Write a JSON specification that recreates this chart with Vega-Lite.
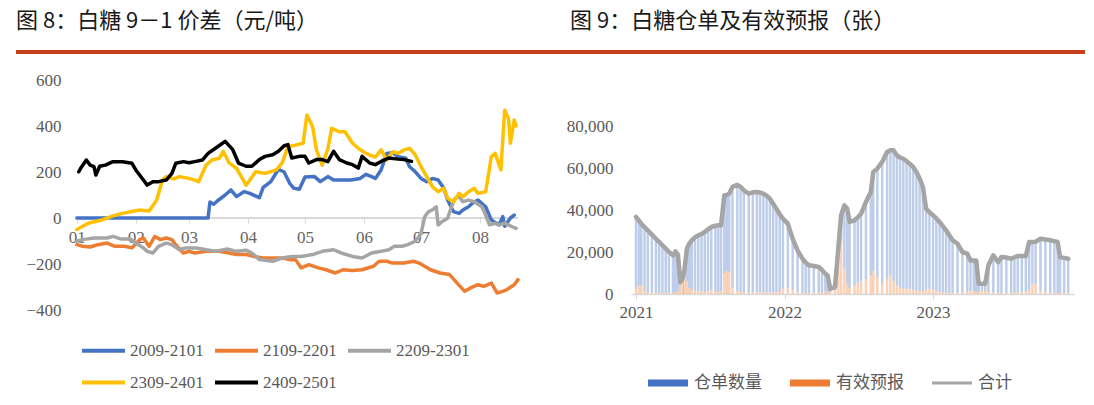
{
  "$schema": "https://vega.github.io/schema/vega-lite/v6.json",
  "padding": {"left": 16, "top": 10, "right": 6, "bottom": 4},
  "background": "white",
  "config": {
    "view": {"stroke": null},
    "axis": {"labelFont": "Liberation Serif", "labelFontSize": 17, "labelColor": "#595959", "grid": false, "ticks": false, "domain": false, "title": null},
    "title": {"font": "Noto Sans CJK SC", "fontSize": 22, "fontWeight": "normal", "color": "#1a1a1a", "anchor": "start", "offset": 13, "baseline": "bottom"}
  },
  "datasets": {
    "spread": [
      {"date": "2001-01-01", "series": "2009-2101", "value": 0},
      {"date": "2001-03-11", "series": "2009-2101", "value": 0},
      {"date": "2001-03-12", "series": "2009-2101", "value": 70},
      {"date": "2001-03-14", "series": "2009-2101", "value": 60},
      {"date": "2001-03-16", "series": "2009-2101", "value": 75},
      {"date": "2001-03-20", "series": "2009-2101", "value": 100},
      {"date": "2001-03-23", "series": "2009-2101", "value": 122},
      {"date": "2001-03-26", "series": "2009-2101", "value": 93},
      {"date": "2001-03-30", "series": "2009-2101", "value": 115},
      {"date": "2001-04-02", "series": "2009-2101", "value": 107},
      {"date": "2001-04-07", "series": "2009-2101", "value": 88},
      {"date": "2001-04-09", "series": "2009-2101", "value": 133},
      {"date": "2001-04-13", "series": "2009-2101", "value": 158},
      {"date": "2001-04-17", "series": "2009-2101", "value": 212},
      {"date": "2001-04-20", "series": "2009-2101", "value": 200},
      {"date": "2001-04-23", "series": "2009-2101", "value": 150},
      {"date": "2001-04-25", "series": "2009-2101", "value": 130},
      {"date": "2001-04-28", "series": "2009-2101", "value": 125},
      {"date": "2001-05-01", "series": "2009-2101", "value": 178},
      {"date": "2001-05-06", "series": "2009-2101", "value": 180},
      {"date": "2001-05-09", "series": "2009-2101", "value": 158},
      {"date": "2001-05-13", "series": "2009-2101", "value": 180},
      {"date": "2001-05-16", "series": "2009-2101", "value": 165},
      {"date": "2001-05-20", "series": "2009-2101", "value": 165},
      {"date": "2001-05-25", "series": "2009-2101", "value": 165},
      {"date": "2001-05-30", "series": "2009-2101", "value": 172},
      {"date": "2001-06-02", "series": "2009-2101", "value": 190},
      {"date": "2001-06-05", "series": "2009-2101", "value": 180},
      {"date": "2001-06-07", "series": "2009-2101", "value": 172},
      {"date": "2001-06-10", "series": "2009-2101", "value": 209},
      {"date": "2001-06-13", "series": "2009-2101", "value": 281},
      {"date": "2001-06-16", "series": "2009-2101", "value": 284},
      {"date": "2001-06-19", "series": "2009-2101", "value": 267},
      {"date": "2001-06-23", "series": "2009-2101", "value": 260},
      {"date": "2001-06-25", "series": "2009-2101", "value": 223},
      {"date": "2001-06-28", "series": "2009-2101", "value": 201},
      {"date": "2001-07-01", "series": "2009-2101", "value": 172},
      {"date": "2001-07-04", "series": "2009-2101", "value": 158},
      {"date": "2001-07-07", "series": "2009-2101", "value": 172},
      {"date": "2001-07-10", "series": "2009-2101", "value": 165},
      {"date": "2001-07-13", "series": "2009-2101", "value": 129},
      {"date": "2001-07-15", "series": "2009-2101", "value": 78},
      {"date": "2001-07-18", "series": "2009-2101", "value": 28},
      {"date": "2001-07-21", "series": "2009-2101", "value": 20},
      {"date": "2001-07-23", "series": "2009-2101", "value": 35},
      {"date": "2001-07-26", "series": "2009-2101", "value": 49},
      {"date": "2001-07-28", "series": "2009-2101", "value": 64},
      {"date": "2001-07-31", "series": "2009-2101", "value": 78},
      {"date": "2001-08-04", "series": "2009-2101", "value": 49},
      {"date": "2001-08-07", "series": "2009-2101", "value": -9},
      {"date": "2001-08-11", "series": "2009-2101", "value": -30},
      {"date": "2001-08-13", "series": "2009-2101", "value": 6},
      {"date": "2001-08-14", "series": "2009-2101", "value": -36},
      {"date": "2001-08-17", "series": "2009-2101", "value": 0},
      {"date": "2001-08-19", "series": "2009-2101", "value": 13},

      {"date": "2001-01-01", "series": "2109-2201", "value": -116},
      {"date": "2001-01-04", "series": "2109-2201", "value": -123},
      {"date": "2001-01-08", "series": "2109-2201", "value": -126},
      {"date": "2001-01-12", "series": "2109-2201", "value": -116},
      {"date": "2001-01-17", "series": "2109-2201", "value": -109},
      {"date": "2001-01-21", "series": "2109-2201", "value": -123},
      {"date": "2001-01-26", "series": "2109-2201", "value": -123},
      {"date": "2001-01-30", "series": "2109-2201", "value": -130},
      {"date": "2001-02-03", "series": "2109-2201", "value": -94},
      {"date": "2001-02-05", "series": "2109-2201", "value": -87},
      {"date": "2001-02-08", "series": "2109-2201", "value": -123},
      {"date": "2001-02-11", "series": "2109-2201", "value": -80},
      {"date": "2001-02-14", "series": "2109-2201", "value": -94},
      {"date": "2001-02-17", "series": "2109-2201", "value": -87},
      {"date": "2001-02-20", "series": "2109-2201", "value": -94},
      {"date": "2001-02-22", "series": "2109-2201", "value": -116},
      {"date": "2001-02-26", "series": "2109-2201", "value": -152},
      {"date": "2001-03-01", "series": "2109-2201", "value": -145},
      {"date": "2001-03-04", "series": "2109-2201", "value": -152},
      {"date": "2001-03-10", "series": "2109-2201", "value": -145},
      {"date": "2001-03-17", "series": "2109-2201", "value": -145},
      {"date": "2001-03-22", "series": "2109-2201", "value": -152},
      {"date": "2001-03-26", "series": "2109-2201", "value": -159},
      {"date": "2001-03-31", "series": "2109-2201", "value": -159},
      {"date": "2001-04-04", "series": "2109-2201", "value": -167},
      {"date": "2001-04-09", "series": "2109-2201", "value": -174},
      {"date": "2001-04-14", "series": "2109-2201", "value": -174},
      {"date": "2001-04-19", "series": "2109-2201", "value": -174},
      {"date": "2001-04-23", "series": "2109-2201", "value": -181},
      {"date": "2001-04-26", "series": "2109-2201", "value": -181},
      {"date": "2001-04-29", "series": "2109-2201", "value": -217},
      {"date": "2001-05-03", "series": "2109-2201", "value": -203},
      {"date": "2001-05-08", "series": "2109-2201", "value": -217},
      {"date": "2001-05-12", "series": "2109-2201", "value": -225},
      {"date": "2001-05-17", "series": "2109-2201", "value": -239},
      {"date": "2001-05-21", "series": "2109-2201", "value": -225},
      {"date": "2001-05-26", "series": "2109-2201", "value": -228},
      {"date": "2001-05-31", "series": "2109-2201", "value": -225},
      {"date": "2001-06-06", "series": "2109-2201", "value": -210},
      {"date": "2001-06-09", "series": "2109-2201", "value": -188},
      {"date": "2001-06-13", "series": "2109-2201", "value": -188},
      {"date": "2001-06-16", "series": "2109-2201", "value": -196},
      {"date": "2001-06-22", "series": "2109-2201", "value": -196},
      {"date": "2001-06-27", "series": "2109-2201", "value": -188},
      {"date": "2001-06-30", "series": "2109-2201", "value": -196},
      {"date": "2001-07-06", "series": "2109-2201", "value": -225},
      {"date": "2001-07-11", "series": "2109-2201", "value": -239},
      {"date": "2001-07-16", "series": "2109-2201", "value": -246},
      {"date": "2001-07-20", "series": "2109-2201", "value": -283},
      {"date": "2001-07-24", "series": "2109-2201", "value": -319},
      {"date": "2001-07-27", "series": "2109-2201", "value": -304},
      {"date": "2001-07-31", "series": "2109-2201", "value": -290},
      {"date": "2001-08-03", "series": "2109-2201", "value": -297},
      {"date": "2001-08-07", "series": "2109-2201", "value": -283},
      {"date": "2001-08-10", "series": "2109-2201", "value": -326},
      {"date": "2001-08-13", "series": "2109-2201", "value": -319},
      {"date": "2001-08-15", "series": "2109-2201", "value": -312},
      {"date": "2001-08-19", "series": "2109-2201", "value": -290},
      {"date": "2001-08-21", "series": "2109-2201", "value": -268},

      {"date": "2001-01-01", "series": "2209-2301", "value": -101},
      {"date": "2001-01-04", "series": "2209-2301", "value": -94},
      {"date": "2001-01-10", "series": "2209-2301", "value": -87},
      {"date": "2001-01-17", "series": "2209-2301", "value": -87},
      {"date": "2001-01-20", "series": "2209-2301", "value": -80},
      {"date": "2001-01-24", "series": "2209-2301", "value": -91},
      {"date": "2001-01-29", "series": "2209-2301", "value": -91},
      {"date": "2001-02-01", "series": "2209-2301", "value": -109},
      {"date": "2001-02-05", "series": "2209-2301", "value": -130},
      {"date": "2001-02-07", "series": "2209-2301", "value": -145},
      {"date": "2001-02-10", "series": "2209-2301", "value": -152},
      {"date": "2001-02-13", "series": "2209-2301", "value": -123},
      {"date": "2001-02-17", "series": "2209-2301", "value": -109},
      {"date": "2001-02-20", "series": "2209-2301", "value": -116},
      {"date": "2001-02-24", "series": "2209-2301", "value": -138},
      {"date": "2001-02-27", "series": "2209-2301", "value": -130},
      {"date": "2001-03-05", "series": "2209-2301", "value": -130},
      {"date": "2001-03-10", "series": "2209-2301", "value": -138},
      {"date": "2001-03-15", "series": "2209-2301", "value": -145},
      {"date": "2001-03-21", "series": "2209-2301", "value": -135},
      {"date": "2001-03-26", "series": "2209-2301", "value": -145},
      {"date": "2001-03-31", "series": "2209-2301", "value": -140},
      {"date": "2001-04-03", "series": "2209-2301", "value": -152},
      {"date": "2001-04-07", "series": "2209-2301", "value": -181},
      {"date": "2001-04-14", "series": "2209-2301", "value": -188},
      {"date": "2001-04-19", "series": "2209-2301", "value": -174},
      {"date": "2001-04-24", "series": "2209-2301", "value": -167},
      {"date": "2001-04-29", "series": "2209-2301", "value": -167},
      {"date": "2001-05-05", "series": "2209-2301", "value": -159},
      {"date": "2001-05-10", "series": "2209-2301", "value": -145},
      {"date": "2001-05-16", "series": "2209-2301", "value": -138},
      {"date": "2001-05-20", "series": "2209-2301", "value": -152},
      {"date": "2001-05-26", "series": "2209-2301", "value": -167},
      {"date": "2001-05-31", "series": "2209-2301", "value": -174},
      {"date": "2001-06-05", "series": "2209-2301", "value": -152},
      {"date": "2001-06-10", "series": "2209-2301", "value": -145},
      {"date": "2001-06-14", "series": "2209-2301", "value": -138},
      {"date": "2001-06-17", "series": "2209-2301", "value": -123},
      {"date": "2001-06-21", "series": "2209-2301", "value": -123},
      {"date": "2001-06-24", "series": "2209-2301", "value": -116},
      {"date": "2001-06-28", "series": "2209-2301", "value": -101},
      {"date": "2001-06-30", "series": "2209-2301", "value": -80},
      {"date": "2001-07-01", "series": "2209-2301", "value": -67},
      {"date": "2001-07-03", "series": "2209-2301", "value": 6},
      {"date": "2001-07-05", "series": "2209-2301", "value": 28},
      {"date": "2001-07-07", "series": "2209-2301", "value": 35},
      {"date": "2001-07-09", "series": "2209-2301", "value": 49},
      {"date": "2001-07-10", "series": "2209-2301", "value": -30},
      {"date": "2001-07-12", "series": "2209-2301", "value": -16},
      {"date": "2001-07-15", "series": "2209-2301", "value": -1},
      {"date": "2001-07-17", "series": "2209-2301", "value": 49},
      {"date": "2001-07-19", "series": "2209-2301", "value": 86},
      {"date": "2001-07-21", "series": "2209-2301", "value": 93},
      {"date": "2001-07-23", "series": "2209-2301", "value": 71},
      {"date": "2001-07-26", "series": "2209-2301", "value": 78},
      {"date": "2001-07-29", "series": "2209-2301", "value": 71},
      {"date": "2001-08-02", "series": "2209-2301", "value": 49},
      {"date": "2001-08-04", "series": "2209-2301", "value": 13},
      {"date": "2001-08-06", "series": "2209-2301", "value": -30},
      {"date": "2001-08-09", "series": "2209-2301", "value": -23},
      {"date": "2001-08-11", "series": "2209-2301", "value": -30},
      {"date": "2001-08-14", "series": "2209-2301", "value": -23},
      {"date": "2001-08-18", "series": "2209-2301", "value": -38},
      {"date": "2001-08-20", "series": "2209-2301", "value": -45},

      {"date": "2001-01-01", "series": "2309-2401", "value": -50},
      {"date": "2001-01-07", "series": "2309-2401", "value": -23},
      {"date": "2001-01-14", "series": "2309-2401", "value": -9},
      {"date": "2001-01-20", "series": "2309-2401", "value": 9},
      {"date": "2001-01-25", "series": "2309-2401", "value": 20},
      {"date": "2001-01-30", "series": "2309-2401", "value": 28},
      {"date": "2001-02-03", "series": "2309-2401", "value": 35},
      {"date": "2001-02-08", "series": "2309-2401", "value": 30},
      {"date": "2001-02-12", "series": "2309-2401", "value": 78},
      {"date": "2001-02-15", "series": "2309-2401", "value": 165},
      {"date": "2001-02-17", "series": "2309-2401", "value": 180},
      {"date": "2001-02-21", "series": "2309-2401", "value": 170},
      {"date": "2001-02-24", "series": "2309-2401", "value": 180},
      {"date": "2001-03-01", "series": "2309-2401", "value": 172},
      {"date": "2001-03-04", "series": "2309-2401", "value": 165},
      {"date": "2001-03-06", "series": "2309-2401", "value": 158},
      {"date": "2001-03-10", "series": "2309-2401", "value": 230},
      {"date": "2001-03-13", "series": "2309-2401", "value": 252},
      {"date": "2001-03-17", "series": "2309-2401", "value": 260},
      {"date": "2001-03-19", "series": "2309-2401", "value": 290},
      {"date": "2001-03-22", "series": "2309-2401", "value": 240},
      {"date": "2001-03-26", "series": "2309-2401", "value": 216},
      {"date": "2001-03-29", "series": "2309-2401", "value": 172},
      {"date": "2001-03-31", "series": "2309-2401", "value": 143},
      {"date": "2001-04-02", "series": "2309-2401", "value": 165},
      {"date": "2001-04-05", "series": "2309-2401", "value": 201},
      {"date": "2001-04-10", "series": "2309-2401", "value": 194},
      {"date": "2001-04-16", "series": "2309-2401", "value": 209},
      {"date": "2001-04-19", "series": "2309-2401", "value": 240},
      {"date": "2001-04-22", "series": "2309-2401", "value": 310},
      {"date": "2001-04-26", "series": "2309-2401", "value": 317},
      {"date": "2001-04-30", "series": "2309-2401", "value": 325},
      {"date": "2001-05-02", "series": "2309-2401", "value": 448},
      {"date": "2001-05-05", "series": "2309-2401", "value": 397},
      {"date": "2001-05-07", "series": "2309-2401", "value": 296},
      {"date": "2001-05-10", "series": "2309-2401", "value": 230},
      {"date": "2001-05-13", "series": "2309-2401", "value": 300},
      {"date": "2001-05-15", "series": "2309-2401", "value": 390},
      {"date": "2001-05-19", "series": "2309-2401", "value": 375},
      {"date": "2001-05-22", "series": "2309-2401", "value": 375},
      {"date": "2001-05-26", "series": "2309-2401", "value": 325},
      {"date": "2001-05-29", "series": "2309-2401", "value": 303},
      {"date": "2001-06-02", "series": "2309-2401", "value": 281},
      {"date": "2001-06-04", "series": "2309-2401", "value": 274},
      {"date": "2001-06-07", "series": "2309-2401", "value": 265},
      {"date": "2001-06-10", "series": "2309-2401", "value": 296},
      {"date": "2001-06-13", "series": "2309-2401", "value": 252},
      {"date": "2001-06-16", "series": "2309-2401", "value": 288},
      {"date": "2001-06-19", "series": "2309-2401", "value": 281},
      {"date": "2001-06-22", "series": "2309-2401", "value": 296},
      {"date": "2001-06-25", "series": "2309-2401", "value": 303},
      {"date": "2001-06-28", "series": "2309-2401", "value": 274},
      {"date": "2001-07-01", "series": "2309-2401", "value": 223},
      {"date": "2001-07-04", "series": "2309-2401", "value": 180},
      {"date": "2001-07-07", "series": "2309-2401", "value": 136},
      {"date": "2001-07-10", "series": "2309-2401", "value": 114},
      {"date": "2001-07-13", "series": "2309-2401", "value": 129},
      {"date": "2001-07-15", "series": "2309-2401", "value": 86},
      {"date": "2001-07-18", "series": "2309-2401", "value": 71},
      {"date": "2001-07-21", "series": "2309-2401", "value": 107},
      {"date": "2001-07-23", "series": "2309-2401", "value": 93},
      {"date": "2001-07-26", "series": "2309-2401", "value": 114},
      {"date": "2001-07-29", "series": "2309-2401", "value": 129},
      {"date": "2001-07-31", "series": "2309-2401", "value": 107},
      {"date": "2001-08-04", "series": "2309-2401", "value": 114},
      {"date": "2001-08-07", "series": "2309-2401", "value": 267},
      {"date": "2001-08-09", "series": "2309-2401", "value": 281},
      {"date": "2001-08-12", "series": "2309-2401", "value": 209},
      {"date": "2001-08-14", "series": "2309-2401", "value": 469},
      {"date": "2001-08-16", "series": "2309-2401", "value": 433},
      {"date": "2001-08-17", "series": "2309-2401", "value": 325},
      {"date": "2001-08-19", "series": "2309-2401", "value": 426},
      {"date": "2001-08-20", "series": "2309-2401", "value": 400},

      {"date": "2001-01-02", "series": "2409-2501", "value": 201},
      {"date": "2001-01-03", "series": "2409-2501", "value": 216},
      {"date": "2001-01-06", "series": "2409-2501", "value": 252},
      {"date": "2001-01-08", "series": "2409-2501", "value": 230},
      {"date": "2001-01-10", "series": "2409-2501", "value": 223},
      {"date": "2001-01-11", "series": "2409-2501", "value": 187},
      {"date": "2001-01-13", "series": "2409-2501", "value": 225},
      {"date": "2001-01-16", "series": "2409-2501", "value": 230},
      {"date": "2001-01-20", "series": "2409-2501", "value": 245},
      {"date": "2001-01-25", "series": "2409-2501", "value": 245},
      {"date": "2001-01-30", "series": "2409-2501", "value": 238},
      {"date": "2001-02-01", "series": "2409-2501", "value": 209},
      {"date": "2001-02-05", "series": "2409-2501", "value": 165},
      {"date": "2001-02-07", "series": "2409-2501", "value": 143},
      {"date": "2001-02-10", "series": "2409-2501", "value": 158},
      {"date": "2001-02-13", "series": "2409-2501", "value": 158},
      {"date": "2001-02-17", "series": "2409-2501", "value": 165},
      {"date": "2001-02-20", "series": "2409-2501", "value": 194},
      {"date": "2001-02-22", "series": "2409-2501", "value": 238},
      {"date": "2001-02-26", "series": "2409-2501", "value": 245},
      {"date": "2001-03-01", "series": "2409-2501", "value": 240},
      {"date": "2001-03-04", "series": "2409-2501", "value": 245},
      {"date": "2001-03-08", "series": "2409-2501", "value": 252},
      {"date": "2001-03-11", "series": "2409-2501", "value": 281},
      {"date": "2001-03-16", "series": "2409-2501", "value": 310},
      {"date": "2001-03-20", "series": "2409-2501", "value": 333},
      {"date": "2001-03-24", "series": "2409-2501", "value": 297},
      {"date": "2001-03-27", "series": "2409-2501", "value": 239},
      {"date": "2001-03-31", "series": "2409-2501", "value": 225},
      {"date": "2001-04-03", "series": "2409-2501", "value": 225},
      {"date": "2001-04-07", "series": "2409-2501", "value": 254},
      {"date": "2001-04-10", "series": "2409-2501", "value": 268},
      {"date": "2001-04-14", "series": "2409-2501", "value": 275},
      {"date": "2001-04-17", "series": "2409-2501", "value": 290},
      {"date": "2001-04-20", "series": "2409-2501", "value": 314},
      {"date": "2001-04-22", "series": "2409-2501", "value": 319},
      {"date": "2001-04-24", "series": "2409-2501", "value": 261},
      {"date": "2001-04-28", "series": "2409-2501", "value": 268},
      {"date": "2001-05-01", "series": "2409-2501", "value": 268},
      {"date": "2001-05-03", "series": "2409-2501", "value": 239},
      {"date": "2001-05-07", "series": "2409-2501", "value": 254},
      {"date": "2001-05-10", "series": "2409-2501", "value": 254},
      {"date": "2001-05-13", "series": "2409-2501", "value": 245},
      {"date": "2001-05-16", "series": "2409-2501", "value": 290},
      {"date": "2001-05-19", "series": "2409-2501", "value": 254},
      {"date": "2001-05-23", "series": "2409-2501", "value": 239},
      {"date": "2001-05-26", "series": "2409-2501", "value": 232},
      {"date": "2001-05-29", "series": "2409-2501", "value": 217},
      {"date": "2001-05-31", "series": "2409-2501", "value": 268},
      {"date": "2001-06-04", "series": "2409-2501", "value": 239},
      {"date": "2001-06-07", "series": "2409-2501", "value": 232},
      {"date": "2001-06-10", "series": "2409-2501", "value": 246},
      {"date": "2001-06-14", "series": "2409-2501", "value": 261},
      {"date": "2001-06-19", "series": "2409-2501", "value": 256},
      {"date": "2001-06-22", "series": "2409-2501", "value": 254},
      {"date": "2001-06-26", "series": "2409-2501", "value": 246}
    ],
    "receipts": [
      {"date": "2021-01-01", "仓单数量": 34200, "有效预报": 2500, "合计": 36700},
      {"date": "2021-01-08", "仓单数量": 30700, "有效预报": 4300, "合计": 35000},
      {"date": "2021-01-14", "仓单数量": 29500, "有效预报": 4000, "合计": 33500},
      {"date": "2021-01-22", "仓单数量": 30300, "有效预报": 1500, "合计": 31800},
      {"date": "2021-01-30", "仓单数量": 29500, "有效预报": 800, "合计": 30300},
      {"date": "2021-02-09", "仓单数量": 27600, "有效预报": 700, "合计": 28300},
      {"date": "2021-02-19", "仓单数量": 25700, "有效预报": 600, "合计": 26300},
      {"date": "2021-02-27", "仓单数量": 24300, "有效预报": 500, "合计": 24800},
      {"date": "2021-03-07", "仓单数量": 22700, "有效预报": 500, "合计": 23200},
      {"date": "2021-03-15", "仓单数量": 21100, "有效预报": 500, "合计": 21600},
      {"date": "2021-03-23", "仓单数量": 19500, "有效预报": 500, "合计": 20000},
      {"date": "2021-04-02", "仓单数量": 17800, "有效预报": 600, "合计": 18400},
      {"date": "2021-04-08", "仓单数量": 19500, "有效预报": 800, "合计": 20300},
      {"date": "2021-04-14", "仓单数量": 17300, "有效预报": 1500, "合计": 18800},
      {"date": "2021-04-20", "仓单数量": 1700, "有效预报": 4000, "合计": 5700},
      {"date": "2021-04-26", "仓单数量": 1000, "有效预报": 7000, "合计": 8000},
      {"date": "2021-04-30", "仓单数量": 2300, "有效预报": 9000, "合计": 11300},
      {"date": "2021-05-06", "仓单数量": 15600, "有效预报": 6000, "合计": 21600},
      {"date": "2021-05-12", "仓单数量": 21000, "有效预报": 3000, "合计": 24000},
      {"date": "2021-05-18", "仓单数量": 23600, "有效预报": 2000, "合计": 25600},
      {"date": "2021-05-26", "仓单数量": 25500, "有效预报": 1500, "合计": 27000},
      {"date": "2021-06-03", "仓单数量": 26400, "有效预报": 1500, "合计": 27900},
      {"date": "2021-06-11", "仓单数量": 27400, "有效预报": 1200, "合计": 28600},
      {"date": "2021-06-19", "仓单数量": 28500, "有效预报": 1000, "合计": 29500},
      {"date": "2021-06-27", "仓单数量": 29300, "有效预报": 1500, "合计": 30800},
      {"date": "2021-07-05", "仓单数量": 30100, "有效预报": 1800, "合计": 31900},
      {"date": "2021-07-15", "仓单数量": 31300, "有效预报": 1200, "合计": 32500},
      {"date": "2021-07-22", "仓单数量": 31700, "有效预报": 1000, "合计": 32700},
      {"date": "2021-07-29", "仓单数量": 31500, "有效预报": 1200, "合计": 32700},
      {"date": "2021-08-06", "仓单数量": 37000, "有效预报": 10000, "合计": 47000},
      {"date": "2021-08-12", "仓单数量": 36200, "有效预报": 11000, "合计": 47200},
      {"date": "2021-08-18", "仓单数量": 37300, "有效预报": 10500, "合计": 47800},
      {"date": "2021-08-26", "仓单数量": 48000, "有效预报": 3000, "合计": 51000},
      {"date": "2021-09-07", "仓单数量": 50500, "有效预报": 1500, "合计": 52000},
      {"date": "2021-09-15", "仓单数量": 50000, "有效预报": 1000, "合计": 51000},
      {"date": "2021-09-23", "仓单数量": 48600, "有效预报": 800, "合计": 49400},
      {"date": "2021-10-05", "仓单数量": 47000, "有效预报": 800, "合计": 47800},
      {"date": "2021-10-15", "仓单数量": 47600, "有效预报": 800, "合计": 48400},
      {"date": "2021-10-25", "仓单数量": 47600, "有效预报": 1000, "合计": 48600},
      {"date": "2021-11-02", "仓单数量": 47300, "有效预报": 1000, "合计": 48300},
      {"date": "2021-11-10", "仓单数量": 46900, "有效预报": 900, "合计": 47800},
      {"date": "2021-11-18", "仓单数量": 46000, "有效预报": 800, "合计": 46800},
      {"date": "2021-11-26", "仓单数量": 44600, "有效预报": 800, "合计": 45400},
      {"date": "2021-12-04", "仓单数量": 42200, "有效预报": 800, "合计": 43000},
      {"date": "2021-12-12", "仓单数量": 39800, "有效预报": 800, "合计": 40600},
      {"date": "2021-12-20", "仓单数量": 37000, "有效预报": 1000, "合计": 38000},
      {"date": "2021-12-28", "仓单数量": 33400, "有效预报": 2500, "合计": 35900},
      {"date": "2022-01-09", "仓单数量": 30500, "有效预报": 3000, "合计": 33500},
      {"date": "2022-01-21", "仓单数量": 24300, "有效预报": 2000, "合计": 26300},
      {"date": "2022-02-02", "仓单数量": 20000, "有效预报": 800, "合计": 20800},
      {"date": "2022-02-14", "仓单数量": 16300, "有效预报": 500, "合计": 16800},
      {"date": "2022-02-22", "仓单数量": 14500, "有效预报": 500, "合计": 15000},
      {"date": "2022-03-02", "仓单数量": 13200, "有效预报": 500, "合计": 13700},
      {"date": "2022-03-14", "仓单数量": 12800, "有效预报": 500, "合计": 13300},
      {"date": "2022-03-26", "仓单数量": 12100, "有效预报": 800, "合计": 12900},
      {"date": "2022-04-03", "仓单数量": 10700, "有效预报": 800, "合计": 11500},
      {"date": "2022-04-11", "仓单数量": 8500, "有效预报": 1200, "合计": 9700},
      {"date": "2022-04-17", "仓单数量": 7900, "有效预报": 1000, "合计": 8900},
      {"date": "2022-04-23", "仓单数量": 1700, "有效预报": 800, "合计": 2500},
      {"date": "2022-05-05", "仓单数量": 1300, "有效预报": 2000, "合计": 3300},
      {"date": "2022-05-13", "仓单数量": 1600, "有效预报": 20000, "合计": 21600},
      {"date": "2022-05-20", "仓单数量": 12500, "有效预报": 25000, "合计": 37500},
      {"date": "2022-05-28", "仓单数量": 30200, "有效预报": 12000, "合计": 42200},
      {"date": "2022-06-04", "仓单数量": 35600, "有效预报": 5000, "合计": 40600},
      {"date": "2022-06-10", "仓单数量": 31300, "有效预报": 3000, "合计": 34300},
      {"date": "2022-06-22", "仓单数量": 31100, "有效预报": 4000, "合计": 35100},
      {"date": "2022-06-30", "仓单数量": 31000, "有效预报": 5500, "合计": 36500},
      {"date": "2022-07-08", "仓单数量": 32200, "有效预报": 6000, "合计": 38200},
      {"date": "2022-07-20", "仓单数量": 36800, "有效预报": 7000, "合计": 43800},
      {"date": "2022-08-01", "仓单数量": 39600, "有效预报": 9000, "合计": 48600},
      {"date": "2022-08-07", "仓单数量": 47100, "有效预报": 11000, "合计": 58100},
      {"date": "2022-08-17", "仓单数量": 51700, "有效预报": 8000, "合计": 59700},
      {"date": "2022-08-29", "仓单数量": 57900, "有效预报": 5000, "合计": 62900},
      {"date": "2022-09-10", "仓单数量": 60600, "有效预报": 7000, "合计": 67600},
      {"date": "2022-09-18", "仓单数量": 59400, "有效预报": 9000, "合计": 68400},
      {"date": "2022-09-26", "仓单数量": 62400, "有效预报": 6000, "合计": 68400},
      {"date": "2022-10-04", "仓单数量": 62000, "有效预报": 4000, "合计": 66000},
      {"date": "2022-10-12", "仓单数量": 62000, "有效预报": 3000, "合计": 65000},
      {"date": "2022-10-20", "仓单数量": 61900, "有效预报": 2500, "合计": 64400},
      {"date": "2022-10-28", "仓单数量": 60700, "有效预报": 2500, "合计": 63200},
      {"date": "2022-11-05", "仓单数量": 59500, "有效预报": 2500, "合计": 62000},
      {"date": "2022-11-13", "仓单数量": 58500, "有效预报": 2000, "合计": 60500},
      {"date": "2022-11-21", "仓单数量": 56600, "有效预报": 1500, "合计": 58100},
      {"date": "2022-11-29", "仓单数量": 53500, "有效预报": 1500, "合计": 55000},
      {"date": "2022-12-07", "仓单数量": 49800, "有效预报": 1200, "合计": 51000},
      {"date": "2022-12-15", "仓单数量": 38600, "有效预报": 2000, "合计": 40600},
      {"date": "2022-12-23", "仓单数量": 36500, "有效预报": 2500, "合计": 39000},
      {"date": "2023-01-01", "仓单数量": 35500, "有效预报": 2000, "合计": 37500},
      {"date": "2023-01-09", "仓单数量": 34500, "有效预报": 1500, "合计": 36000},
      {"date": "2023-01-17", "仓单数量": 33300, "有效预报": 1000, "合计": 34300},
      {"date": "2023-01-25", "仓单数量": 31500, "有效预报": 800, "合计": 32300},
      {"date": "2023-02-02", "仓单数量": 29600, "有效预报": 700, "合计": 30300},
      {"date": "2023-02-10", "仓单数量": 27400, "有效预报": 600, "合计": 28000},
      {"date": "2023-02-18", "仓单数量": 25100, "有效预报": 500, "合计": 25600},
      {"date": "2023-03-02", "仓单数量": 23500, "有效预报": 500, "合计": 24000},
      {"date": "2023-03-14", "仓单数量": 19300, "有效预报": 700, "合计": 20000},
      {"date": "2023-03-26", "仓单数量": 18000, "有效预报": 1200, "合计": 19200},
      {"date": "2023-04-03", "仓单数量": 14500, "有效预报": 1500, "合计": 16000},
      {"date": "2023-04-11", "仓单数量": 14500, "有效预报": 1500, "合计": 16000},
      {"date": "2023-04-17", "仓单数量": 15000, "有效预报": 1000, "合计": 16000},
      {"date": "2023-04-23", "仓单数量": 3900, "有效预报": 1000, "合计": 4900},
      {"date": "2023-05-01", "仓单数量": 3400, "有效预报": 1500, "合计": 4900},
      {"date": "2023-05-09", "仓单数量": 3400, "有效预报": 1500, "合计": 4900},
      {"date": "2023-05-17", "仓单数量": 12700, "有效预报": 1000, "合计": 13700},
      {"date": "2023-05-29", "仓单数量": 17600, "有效预报": 800, "合计": 18400},
      {"date": "2023-06-10", "仓单数量": 14600, "有效预报": 600, "合计": 15200},
      {"date": "2023-06-18", "仓单数量": 17100, "有效预报": 500, "合计": 17600},
      {"date": "2023-06-30", "仓单数量": 16900, "有效预报": 500, "合计": 17400},
      {"date": "2023-07-12", "仓单数量": 16300, "有效预报": 500, "合计": 16800},
      {"date": "2023-07-20", "仓单数量": 16700, "有效预报": 800, "合计": 17500},
      {"date": "2023-07-28", "仓单数量": 17300, "有效预报": 800, "合计": 18100},
      {"date": "2023-08-07", "仓单数量": 17100, "有效预报": 1000, "合计": 18100},
      {"date": "2023-08-17", "仓单数量": 17100, "有效预报": 1000, "合计": 18100},
      {"date": "2023-08-25", "仓单数量": 22800, "有效预报": 2000, "合计": 24800},
      {"date": "2023-09-02", "仓单数量": 19800, "有效预报": 5000, "合计": 24800},
      {"date": "2023-09-10", "仓单数量": 20400, "有效预报": 4500, "合计": 24900},
      {"date": "2023-09-22", "仓单数量": 24800, "有效预报": 1500, "合计": 26300},
      {"date": "2023-10-04", "仓单数量": 25200, "有效预报": 800, "合计": 26000},
      {"date": "2023-10-16", "仓单数量": 25100, "有效预报": 500, "合计": 25600},
      {"date": "2023-10-26", "仓单数量": 24700, "有效预报": 500, "合计": 25200},
      {"date": "2023-11-03", "仓单数量": 24300, "有效预报": 500, "合计": 24800},
      {"date": "2023-11-09", "仓单数量": 17100, "有效预报": 500, "合计": 17600},
      {"date": "2023-11-19", "仓单数量": 16700, "有效预报": 500, "合计": 17200},
      {"date": "2023-11-29", "仓单数量": 16300, "有效预报": 500, "合计": 16800}
    ]
  },
  "concat": [
    {
      "hconcat": [
        {
          "width": 554, "height": 4,
          "view": {"fill": "#C5401A", "stroke": null},
          "title": {"text": "图 8：白糖 9－1 价差（元/吨）"},
          "data": {"values": [{}]},
          "mark": {"type": "text"},
          "encoding": {"text": {"value": ""}}
        },
        {
          "width": 515, "height": 4,
          "view": {"fill": "#C5401A", "stroke": null},
          "title": {"text": "图 9：白糖仓单及有效预报（张）"},
          "data": {"values": [{}]},
          "mark": {"type": "text"},
          "encoding": {"text": {"value": ""}}
        }
      ],
      "spacing": 0
    },
    {
      "hconcat": [
        {
          "width": 502, "height": 230,
          "data": {"name": "spread"},
          "layer": [
            {
              "mark": {"type": "rule", "color": "#d9d9d9", "strokeWidth": 1.5},
              "encoding": {
                "x": {"datum": {"year": 2001, "month": 1, "date": 1}, "type": "temporal"},
                "x2": {"datum": {"year": 2001, "month": 8, "date": 21}},
                "y": {"datum": 0, "type": "quantitative"}
              }
            },
            {
              "mark": {"type": "line", "strokeWidth": 3.5, "strokeJoin": "round", "strokeCap": "round"},
              "encoding": {
                "x": {
                  "field": "date", "type": "temporal",
                  "scale": {"domain": [{"year": 2000, "month": 11, "date": 30}, {"year": 2001, "month": 8, "date": 21}]},
                  "axis": {
                    "format": "%m",
                    "values": [{"year": 2001, "month": 1, "date": 1}, {"year": 2001, "month": 2, "date": 1}, {"year": 2001, "month": 3, "date": 1}, {"year": 2001, "month": 4, "date": 1}, {"year": 2001, "month": 5, "date": 1}, {"year": 2001, "month": 6, "date": 1}, {"year": 2001, "month": 7, "date": 1}, {"year": 2001, "month": 8, "date": 1}],
                    "offset": -92, "domain": false, "ticks": true, "tickColor": "#d9d9d9", "tickSize": 5, "labelPadding": 6, "labelAlign": "center", "labelFlush": false, "labelColor": "#666666"
                  }
                },
                "y": {
                  "field": "value", "type": "quantitative",
                  "scale": {"domain": [-400, 600], "nice": false, "zero": false},
                  "axis": {"values": [-400, -200, 0, 200, 400, 600], "offset": -61, "labelPadding": 16}
                },
                "color": {
                  "field": "series", "type": "nominal",
                  "scale": {"domain": ["2009-2101", "2109-2201", "2209-2301", "2309-2401", "2409-2501"], "range": ["#4472C4", "#ED7D31", "#A5A5A5", "#FFC000", "#000000"]},
                  "legend": {"orient": "none", "legendX": 64, "legendY": 247, "direction": "horizontal", "columns": 3, "title": null, "symbolType": "stroke", "symbolSize": 1849, "symbolStrokeWidth": 4, "labelFont": "Liberation Serif", "labelFontSize": 17, "labelColor": "#595959", "columnPadding": 3, "rowPadding": -10, "labelOffset": 3}
                }
              }
            }
          ]
        },
        {
          "width": 443, "height": 214,
          "data": {"name": "receipts"},
          "layer": [
            {
              "transform": [{"fold": ["有效预报", "仓单数量"], "as": ["kind", "amount"]}],
              "mark": {"type": "bar", "size": 2.5, "opacity": 0.35},
              "encoding": {
                "x": {
                  "field": "date", "type": "temporal",
                  "scale": {"domain": [{"year": 2021, "month": 1, "date": 1}, {"year": 2023, "month": 12, "date": 1}]},
                  "axis": {"format": "%Y", "tickCount": {"interval": "year", "step": 1}, "domain": true, "domainColor": "#d9d9d9", "domainWidth": 1.5, "ticks": true, "tickColor": "#d9d9d9", "tickSize": 5, "labelPadding": 5, "labelAlign": "center", "labelFlush": false}
                },
                "y": {
                  "field": "amount", "type": "quantitative", "stack": "zero",
                  "scale": {"domain": [0, 101905], "nice": false},
                  "axis": {"values": [0, 20000, 40000, 60000, 80000], "format": ",.0f", "formatType": "number", "minExtent": 70, "labelPadding": 18}
                },
                "order": {"field": "kind", "sort": "descending"},
                "color": {
                  "field": "kind", "type": "nominal",
                  "scale": {"domain": ["仓单数量", "有效预报", "合计"], "range": ["#4472C4", "#ED7D31", "#A5A5A5"]},
                  "legend": {
                    "orient": "none", "legendX": 17, "legendY": 283, "direction": "horizontal", "title": null,
                    "symbolType": "M-1,-0.18H1V0.18H-1Z", "symbolSize": 1600, "symbolOpacity": 1, "symbolStrokeWidth": 0,
                    "labelFont": "Noto Sans CJK SC", "labelFontSize": 17, "labelColor": "#595959", "columnPadding": 28, "labelOffset": 6,
                    "encoding": {"symbols": {"shape": {"condition": {"test": "datum.value === '合计'", "value": "M-1,-0.07H1V0.07H-1Z"}, "value": "M-1,-0.18H1V0.18H-1Z"}}}
                  }
                }
              }
            },
            {
              "mark": {"type": "line", "strokeWidth": 4.5, "strokeJoin": "round", "strokeCap": "round"},
              "encoding": {
                "x": {"field": "date", "type": "temporal"},
                "y": {
                  "field": "合计", "type": "quantitative",
                  "axis": {"values": [0, 20000, 40000, 60000, 80000], "format": ",.0f", "formatType": "number", "minExtent": 70, "labelPadding": 18}
                },
                "color": {"datum": "合计", "legend": null}
              }
            }
          ]
        }
      ],
      "spacing": 41,
      "resolve": {"scale": {"color": "independent"}, "legend": {"color": "independent"}}
    }
  ],
  "columns": 1,
  "align": "none",
  "spacing": 14
}
